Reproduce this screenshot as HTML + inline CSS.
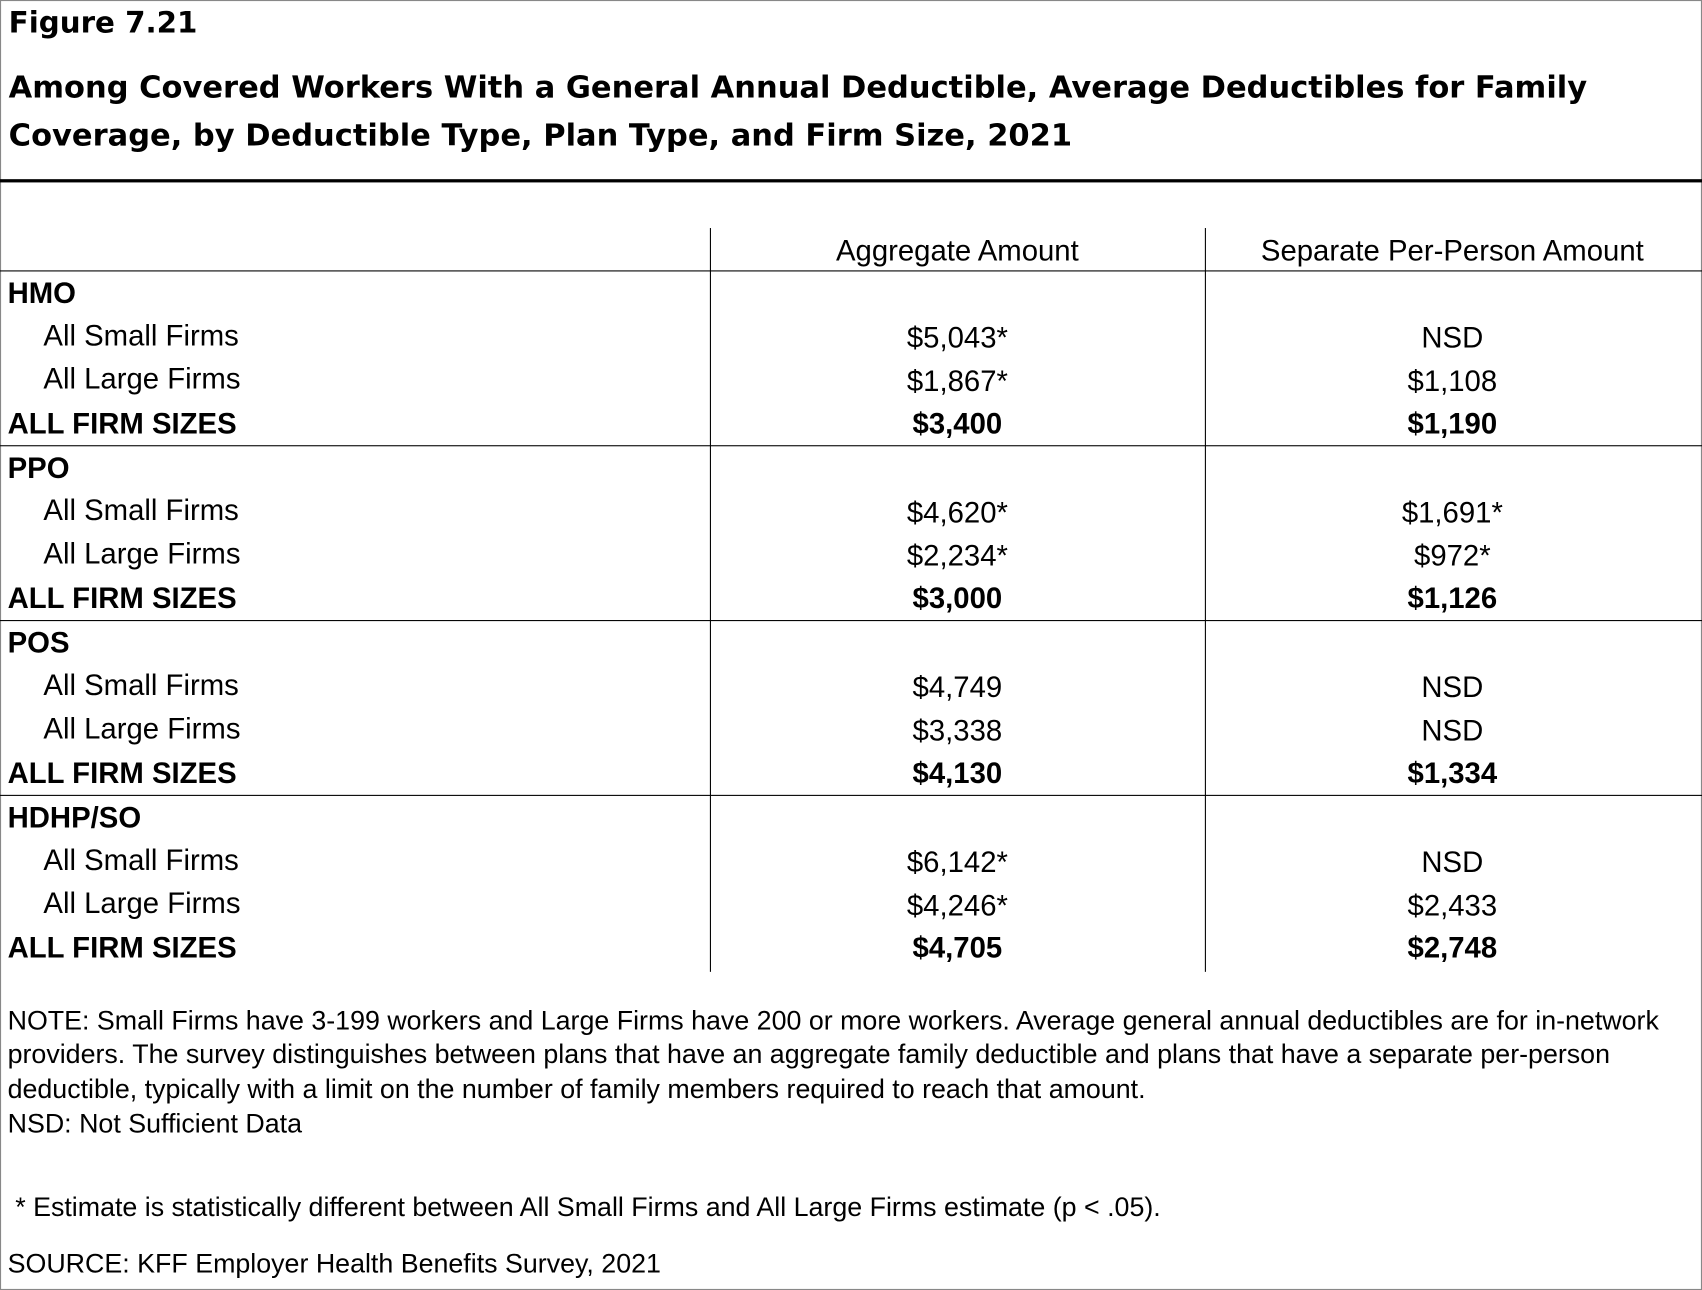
<!DOCTYPE html>
<html><head><meta charset="utf-8"><style>
html,body{margin:0;padding:0;background:#fff;width:1702px;height:1290px;overflow:hidden}
#w{position:absolute;left:0;top:0;width:1568px;height:1188px;transform-origin:0 0;transform:scale(1.08546,1.08586);font-family:"Liberation Sans",Arial,sans-serif;color:#000}
#w div{position:absolute;white-space:nowrap}
.t{font-weight:bold;font-size:28.1px;font-family:"DejaVu Sans",sans-serif}
.hl{left:0;width:1568px;height:1px;background:#000}
.vl{width:1px;background:#000;top:210px;height:685px}
.r{font-size:27px;line-height:30px}
.c1{left:654px;width:456px;text-align:center}
.c2{left:1110px;width:456px;text-align:center}
.b{font-weight:bold}
.n{font-size:24.7px;left:7px}
</style></head><body><div id="w">
<div style="left:0;top:0;width:1566px;height:1186px;border:1px solid #888"></div>
<div class="t" style="left:8px;top:6px;font-size:27px">Figure 7.21</div>
<div class="t" style="left:8px;top:64px">Among Covered Workers With a General Annual Deductible, Average Deductibles for Family</div>
<div class="t" style="left:8px;top:108px">Coverage, by Deductible Type, Plan Type, and Firm Size, 2021</div>
<div class="hl" style="top:165px;height:3px"></div>
<div class="vl" style="left:654px"></div>
<div class="vl" style="left:1110px"></div>
<div class="r c1" style="top:216px">Aggregate Amount</div>
<div class="r c2" style="top:216px">Separate Per-Person Amount</div>
<div class="hl" style="top:249px"></div>

<div class="r b" style="left:7px;top:255px">HMO</div>
<div class="r" style="left:40px;top:294px">All Small Firms</div>
<div class="r" style="left:40px;top:334px">All Large Firms</div>
<div class="r b" style="left:7px;top:375px">ALL FIRM SIZES</div>
<div class="r c1" style="top:296px">$5,043*</div><div class="r c2" style="top:296px">NSD</div>
<div class="r c1" style="top:336px">$1,867*</div><div class="r c2" style="top:336px">$1,108</div>
<div class="r c1 b" style="top:375px">$3,400</div><div class="r c2 b" style="top:375px">$1,190</div>
<div class="hl" style="top:410px"></div>

<div class="r b" style="left:7px;top:416px">PPO</div>
<div class="r" style="left:40px;top:455px">All Small Firms</div>
<div class="r" style="left:40px;top:495px">All Large Firms</div>
<div class="r b" style="left:7px;top:536px">ALL FIRM SIZES</div>
<div class="r c1" style="top:457px">$4,620*</div><div class="r c2" style="top:457px">$1,691*</div>
<div class="r c1" style="top:497px">$2,234*</div><div class="r c2" style="top:497px">$972*</div>
<div class="r c1 b" style="top:536px">$3,000</div><div class="r c2 b" style="top:536px">$1,126</div>
<div class="hl" style="top:571px"></div>

<div class="r b" style="left:7px;top:577px">POS</div>
<div class="r" style="left:40px;top:616px">All Small Firms</div>
<div class="r" style="left:40px;top:656px">All Large Firms</div>
<div class="r b" style="left:7px;top:697px">ALL FIRM SIZES</div>
<div class="r c1" style="top:618px">$4,749</div><div class="r c2" style="top:618px">NSD</div>
<div class="r c1" style="top:658px">$3,338</div><div class="r c2" style="top:658px">NSD</div>
<div class="r c1 b" style="top:697px">$4,130</div><div class="r c2 b" style="top:697px">$1,334</div>
<div class="hl" style="top:732px"></div>

<div class="r b" style="left:7px;top:738px">HDHP/SO</div>
<div class="r" style="left:40px;top:777px">All Small Firms</div>
<div class="r" style="left:40px;top:817px">All Large Firms</div>
<div class="r b" style="left:7px;top:858px">ALL FIRM SIZES</div>
<div class="r c1" style="top:779px">$6,142*</div><div class="r c2" style="top:779px">NSD</div>
<div class="r c1" style="top:819px">$4,246*</div><div class="r c2" style="top:819px">$2,433</div>
<div class="r c1 b" style="top:858px">$4,705</div><div class="r c2 b" style="top:858px">$2,748</div>

<div class="n" style="top:927px">NOTE: Small Firms have 3-199 workers and Large Firms have 200 or more workers. Average general annual deductibles are for in-network</div>
<div class="n" style="top:958px">providers. The survey distinguishes between plans that have an aggregate family deductible and plans that have a separate per-person</div>
<div class="n" style="top:990px">deductible, typically with a limit on the number of family members required to reach that amount.</div>
<div class="n" style="top:1022px">NSD: Not Sufficient Data</div>
<div class="n" style="top:1099px;left:14px">* Estimate is statistically different between All Small Firms and All Large Firms estimate (p &lt; .05).</div>
<div class="n" style="top:1151px">SOURCE: KFF Employer Health Benefits Survey, 2021</div>
</div></body></html>
